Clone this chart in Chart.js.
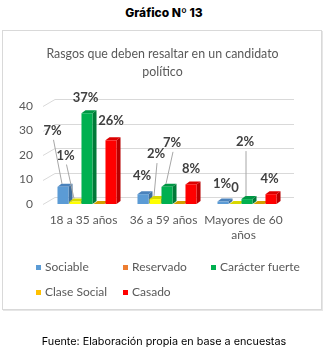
<!DOCTYPE html>
<html>
<head>
<meta charset="utf-8">
<script src="https://cdn.jsdelivr.net/npm/chart.js@4/dist/chart.umd.min.js"></script>
<style>
  html,body{margin:0;padding:0;background:#fff;}
  #page{position:relative;width:328px;height:354px;overflow:hidden;background:#fff;}
  #hdr{position:absolute;left:0;top:6px;width:328px;text-align:center;font:800 12px Inter, "DejaVu Sans", sans-serif;line-height:14px;color:#000;}
  #box{position:absolute;left:2px;top:30px;width:320px;height:280px;border:1px solid #D9D9D9;box-shadow:1px 1px 0 #E6E6E6;box-sizing:border-box;}
  #cv{position:absolute;left:0;top:0;}
  .lg{position:absolute;font:12px Lato, sans-serif;line-height:14px;color:#595959;white-space:nowrap;}
  .sw{position:absolute;width:5px;height:5px;}
  #ftr{position:absolute;left:0;top:335px;width:328px;text-align:center;font:10.8px Inter, sans-serif;line-height:13px;color:#000;}
</style>
</head>
<body>
<div id="page">
  <div id="hdr">Gráfico Nº 13</div>
  <div id="box"></div>
  <canvas id="cv" width="328" height="354"></canvas>
  <div id="legend"></div>
  <div id="ftr">Fuente: Elaboración propia en base a encuestas</div>
</div>
<script>
// ---- data ----
const categories = ['18 a 35 años', '36 a 59 años', 'Mayores de 60 años'];
const seriesNames = ['Sociable', 'Reservado', 'Carácter fuerte', 'Clase Social', 'Casado'];
const sociable = [7, 4, 1];
const reservado = [1, 2, 0];
const caracterFuerte = [37, 7, 2];
const claseSocial = [0, 0, 0];
const casado = [26, 8, 4];
const yTicks = [0, 10, 20, 30, 40];
const titleLines = ['Rasgos que deben resaltar en un candidato', 'político'];

// ---- styles ----
const barColors = [
  {front:'#5B9BD5', side:'#3E6E9E', top:'#4A82BC'},
  {front:'#FFFF00', side:'#B8B800', top:'#D8D800'},
  {front:'#00B050', side:'#007A38', top:'#009644'},
  {front:'#FFC000', side:'#B88A00', top:'#D2A100'},
  {front:'#FF0000', side:'#B80000', top:'#DC0000'}
];
const legendColors = ['#5B9BD5', '#ED7D31', '#00B050', '#FFC000', '#FF0000'];
const legendPos = [[36,45,264.5],[123,132,264.5],[211,220,264.5],[36,45,289.5],[123,132,289.5]];
const showLabels = [true, true, true, false, true];
// label offsets relative to bar front-top centre (dx, dy)
const labelOffsets = [
  [[-10.5,-56],[-1,-18],[-1,-17.5]],
  [[-9.5,-46],[1,-45],[0,-16]],
  [[-1.5,-16],[5,-44],[-2,-57]],
  [[0,0],[0,0],[0,0]],
  [[0,-19],[0,-16],[-1.5,-15]]
];
const DX = 4, DY = 3;          // bar depth
const GX = 12, GY = 7, GRID_RIGHT = 294; // wall depth
const TITLE_SPAN = [0, 325];

const seriesData = [sociable, reservado, caracterFuerte, claseSocial, casado];

// legend (HTML)
const lg = document.getElementById('legend');
seriesNames.forEach((n, i) => {
  const p = legendPos[i];
  const sw = document.createElement('div');
  sw.className = 'sw'; sw.style.left = p[0] + 'px'; sw.style.top = p[2] + 'px';
  sw.style.background = legendColors[i];
  lg.appendChild(sw);
  const t = document.createElement('div');
  t.className = 'lg'; t.textContent = n;
  t.style.left = p[1] + 'px'; t.style.top = (p[2] - 4.5) + 'px';
  lg.appendChild(t);
});

function wrap(label) {
  if (label.length <= 14) return label;
  const i = label.lastIndexOf(' ');
  return [label.slice(0, i), label.slice(i + 1)];
}

const threeD = {
  id: 'threeD',
  afterLayout(chart) {
    if (chart.titleBlock) {
      chart.titleBlock.left = TITLE_SPAN[0];
      chart.titleBlock.right = TITLE_SPAN[1];
      chart.titleBlock.width = TITLE_SPAN[1] - TITLE_SPAN[0];
    }
  },
  beforeDatasetsDraw(chart) {
    const ctx = chart.ctx, y = chart.scales.y, area = chart.chartArea;
    ctx.save();
    ctx.strokeStyle = '#D9D9D9'; ctx.lineWidth = 1;
    yTicks.forEach(v => {
      const py = Math.round(y.getPixelForValue(v)) + 0.5;
      ctx.beginPath();
      ctx.moveTo(area.left - 4, py);
      ctx.lineTo(area.left - 4 + GX, py - GY);
      ctx.lineTo(GRID_RIGHT, py - GY);
      ctx.stroke();
    });
    // depth faces (behind fronts)
    chart.data.datasets.forEach((ds, di) => {
      const meta = chart.getDatasetMeta(di);
      const c = barColors[di];
      meta.data.forEach(bar => {
        const l = bar.x - bar.width / 2, r = bar.x + bar.width / 2;
        const t = Math.min(bar.y, bar.base), b = bar.base;
        ctx.fillStyle = c.side;
        ctx.beginPath();
        ctx.moveTo(r, b); ctx.lineTo(r + DX, b - DY); ctx.lineTo(r + DX, t - DY); ctx.lineTo(r, t);
        ctx.closePath(); ctx.fill();
        ctx.fillStyle = c.top;
        ctx.beginPath();
        ctx.moveTo(l, t); ctx.lineTo(l + DX, t - DY); ctx.lineTo(r + DX, t - DY); ctx.lineTo(r, t);
        ctx.closePath(); ctx.fill();
      });
    });
    ctx.restore();
  },
  afterDatasetsDraw(chart) {
    const ctx = chart.ctx;
    ctx.save();
    ctx.font = 'bold 13px Lato, sans-serif';
    ctx.textAlign = 'center'; ctx.textBaseline = 'middle';
    chart.data.datasets.forEach((ds, di) => {
      if (!showLabels[di]) return;
      const meta = chart.getDatasetMeta(di);
      meta.data.forEach((bar, i) => {
        const v = ds.data[i];
        const off = labelOffsets[di][i];
        const cx = bar.x + off[0], cy = bar.y + off[1];
        if (Math.abs(off[1]) > 30) {
          ctx.strokeStyle = '#A6A6A6'; ctx.lineWidth = 1;
          ctx.beginPath();
          ctx.moveTo(cx + 1, cy + 9);
          ctx.lineTo(bar.x - 1, bar.y - 3);
          ctx.stroke();
        }
        ctx.fillStyle = '#404040';
        ctx.fillText(v === 0 ? '0' : v + '%', cx, cy);
      });
    });
    ctx.restore();
  }
};

new Chart(document.getElementById('cv'), {
  type: 'bar',
  data: {
    labels: categories,
    datasets: seriesNames.map((n, i) => ({
      label: n,
      data: seriesData[i],
      backgroundColor: barColors[i].front,
      borderWidth: 0,
      categoryPercentage: 0.75,
      barPercentage: 0.92
    }))
  },
  options: {
    responsive: false,
    animation: false,
    layout: {padding: {left: 0, right: 41, top: 0, bottom: 100}},
    plugins: {
      legend: {display: false},
      tooltip: {enabled: false},
      title: {
        display: true,
        text: titleLines,
        color: '#595959',
        font: {family: 'Lato', size: 12.4, weight: 'normal', lineHeight: '18px'},
        padding: {top: 45, bottom: 25}
      }
    },
    scales: {
      x: {
        grid: {display: false, drawTicks: false},
        border: {display: false},
        ticks: {
          color: '#595959', font: {family: 'Lato', size: 12, lineHeight: 14.5 / 12},
          padding: 9, labelOffset: -3.5, maxRotation: 0, autoSkip: false,
          callback: function (v, i) { return wrap(categories[i]); }
        },
        afterFit: s => { s.height = 50; }
      },
      y: {
        min: 0, max: 40,
        grid: {display: false, drawTicks: false},
        border: {display: false},
        ticks: {stepSize: 10, color: '#595959', font: {family: 'Lato', size: 12}, padding: 14},
        afterFit: s => { s.width = 47; }
      }
    }
  },
  plugins: [threeD]
});
</script>
</body>
</html>
